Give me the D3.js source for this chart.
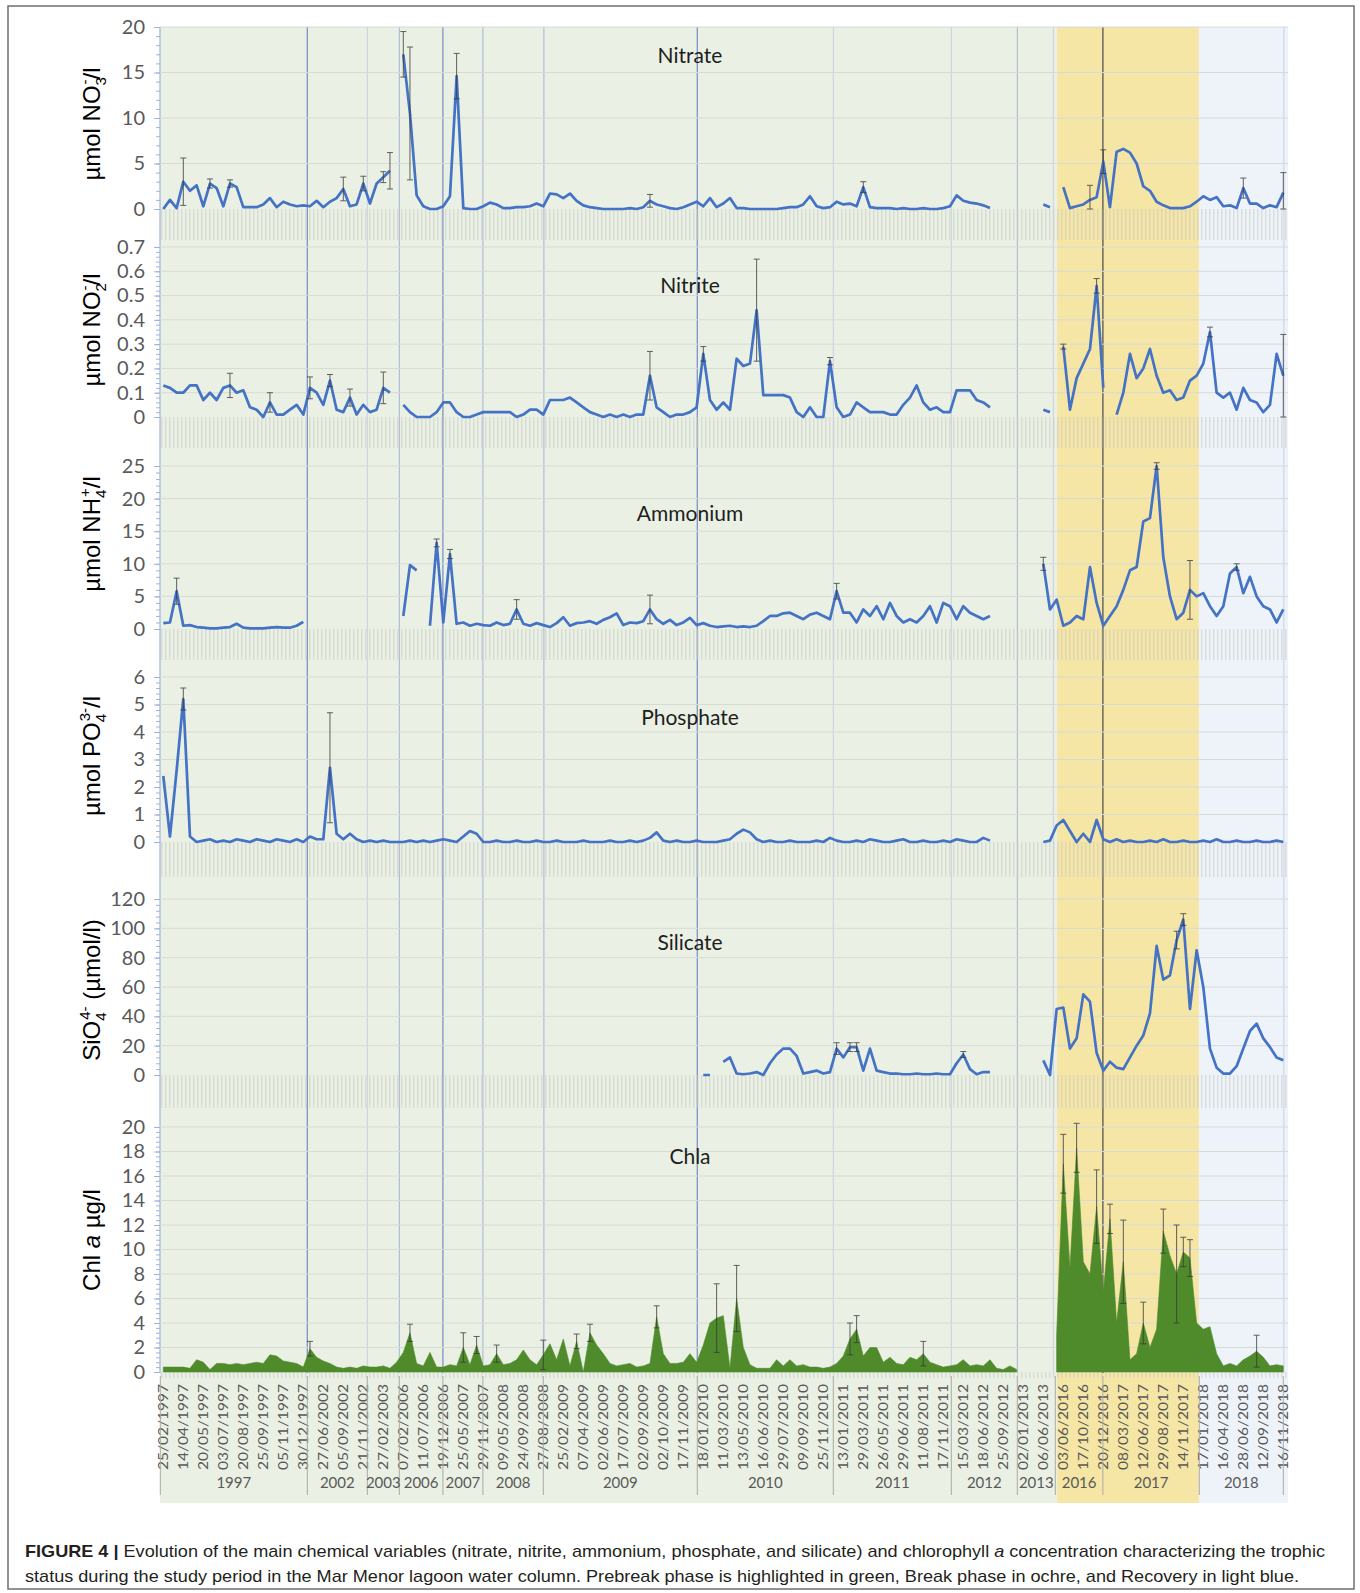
<!DOCTYPE html>
<html>
<head>
<meta charset="utf-8">
<script src="https://cdn.jsdelivr.net/npm/d3@7"></script>
<style>
  body { margin: 0; background: #fff; }
  svg { display: block; }
</style>
</head>
<body>
<svg id="chart" width="1360" height="1593"></svg>
<script>
// sampling dates shown on the axis (one every third value below)
var dates = ['25/02/1997','14/04/1997','20/05/1997','03/07/1997','20/08/1997','25/09/1997','05/11/1997','30/12/1997',
  '27/06/2002','05/09/2002','21/11/2002','27/02/2003','07/02/2006','11/07/2006','19/12/2006','25/05/2007','29/11/2007',
  '09/05/2008','24/09/2008','27/08/2008','25/02/2009','07/04/2009','02/06/2009','17/07/2009','02/09/2009','02/10/2009',
  '17/11/2009','18/01/2010','11/03/2010','13/05/2010','16/06/2010','29/07/2010','09/09/2010','25/11/2010','13/01/2011',
  '29/03/2011','26/05/2011','29/06/2011','11/08/2011','17/11/2011','15/03/2012','18/06/2012','25/09/2012','02/01/2013',
  '06/06/2013','03/06/2016','17/10/2016','20/12/2016','08/03/2017','12/06/2017','29/08/2017','14/11/2017','17/01/2018',
  '16/04/2018','28/06/2018','12/09/2018','16/11/2018'];

var years = ['1997','2002','2003','2006','2007','2008','2009','2010','2011','2012','2013','2016','2017','2018'];
var yearEdges = [-0.15, 7.2, 10.2, 11.8, 13.98, 15.98, 19.0, 26.7, 33.5, 39.4, 42.7, 44.6, 46.98, 51.8, 56.0];

var sepPos = [7.2, 10.2, 11.8, 13.98, 15.98, 19.03, 26.7, 33.5, 39.4, 42.7, 44.5, 46.98, 56.03];
var sepTone = [2, 0, 1, 2, 1, 1, 2, 0, 0, 1, 0, 3, 0];

var phaseEdges = [-0.165, 44.69, 51.78, 56.235];
var phases = ['Prebreak', 'Break', 'Recovery'];

var titles = ['Nitrate', 'Nitrite', 'Ammonium', 'Phosphate', 'Silicate', 'Chla'];

var nitrate = [0.0, 1.0, 0.1, 3.0, 2.0, 2.6, 0.3, 2.8, 2.3, 0.3,
  2.8, 2.4, 0.2, 0.2, 0.2, 0.5, 1.2, 0.2, 0.8, 0.5,
  0.3, 0.4, 0.3, 0.9, 0.2, 0.8, 1.2, 2.2, 0.3, 0.5,
  2.8, 0.6, 2.8, 3.5, 4.2, null, 17.0, 10.5, 1.5, 0.3,
  0.0, 0.0, 0.3, 1.4, 14.6, 0.1, 0.0, 0.0, 0.3, 0.7,
  0.5, 0.1, 0.1, 0.2, 0.2, 0.3, 0.6, 0.3, 1.7, 1.6,
  1.2, 1.7, 0.9, 0.4, 0.2, 0.1, 0.0, 0.0, 0.0, 0.0,
  0.1, 0.0, 0.2, 0.9, 0.5, 0.3, 0.1, 0.0, 0.2, 0.5,
  0.8, 0.3, 1.2, 0.2, 0.6, 1.2, 0.1, 0.1, 0.0, 0.0,
  0.0, 0.0, 0.0, 0.1, 0.2, 0.2, 0.5, 1.4, 0.3, 0.1,
  0.2, 0.8, 0.5, 0.6, 0.3, 2.4, 0.2, 0.1, 0.1, 0.1,
  0.0, 0.1, 0.0, 0.0, 0.1, 0.0, 0.0, 0.1, 0.3, 1.5,
  0.9, 0.7, 0.6, 0.4, 0.1, null, null, null, null, null,
  null, null, 0.5, 0.2, null, 2.4, 0.1, 0.3, 0.5, 1.0,
  1.3, 5.2, 0.2, 6.3, 6.6, 6.2, 5.0, 2.5, 2.0, 0.8,
  0.4, 0.1, 0.1, 0.1, 0.3, 0.8, 1.4, 1.0, 1.3, 0.3,
  0.4, 0.1, 2.3, 0.6, 0.6, 0.1, 0.4, 0.2, 1.8];

var nitrite = [0.13, 0.12, 0.10, 0.10, 0.13, 0.13, 0.07, 0.10, 0.07, 0.12,
  0.13, 0.10, 0.11, 0.04, 0.03, 0.00, 0.06, 0.01, 0.01, 0.03,
  0.05, 0.01, 0.12, 0.10, 0.05, 0.15, 0.03, 0.02, 0.08, 0.01,
  0.05, 0.02, 0.03, 0.12, 0.10, null, 0.05, 0.02, 0.00, 0.00,
  0.00, 0.02, 0.06, 0.06, 0.02, 0.00, 0.00, 0.01, 0.02, 0.02,
  0.02, 0.02, 0.02, 0.00, 0.01, 0.03, 0.03, 0.01, 0.07, 0.07,
  0.07, 0.08, 0.06, 0.04, 0.02, 0.01, 0.00, 0.01, 0.00, 0.01,
  0.00, 0.01, 0.01, 0.17, 0.04, 0.02, 0.00, 0.01, 0.01, 0.02,
  0.04, 0.26, 0.07, 0.03, 0.06, 0.03, 0.24, 0.21, 0.22, 0.44,
  0.09, 0.09, 0.09, 0.09, 0.08, 0.02, 0.00, 0.04, 0.00, 0.00,
  0.23, 0.04, 0.00, 0.01, 0.06, 0.04, 0.02, 0.02, 0.02, 0.01,
  0.01, 0.05, 0.08, 0.13, 0.06, 0.03, 0.04, 0.02, 0.02, 0.11,
  0.11, 0.11, 0.07, 0.06, 0.04, null, null, null, null, null,
  null, null, 0.03, 0.02, null, 0.29, 0.03, 0.16, 0.22, 0.28,
  0.54, 0.12, null, 0.01, 0.10, 0.26, 0.16, 0.20, 0.28, 0.17,
  0.10, 0.11, 0.07, 0.08, 0.15, 0.17, 0.22, 0.35, 0.10, 0.08,
  0.10, 0.03, 0.12, 0.07, 0.06, 0.02, 0.05, 0.26, 0.17];

var ammonium = [0.9, 1.0, 5.8, 0.5, 0.6, 0.3, 0.2, 0.1, 0.1, 0.2,
  0.3, 0.8, 0.2, 0.1, 0.1, 0.1, 0.2, 0.3, 0.2, 0.2,
  0.5, 1.1, null, null, null, null, null, null, null, null,
  null, null, null, null, null, null, 2.0, 9.8, 9.0, null,
  0.5, 13.2, 1.0, 11.5, 0.8, 1.0, 0.5, 0.8, 0.6, 0.5,
  1.0, 0.6, 0.8, 3.0, 0.8, 0.5, 0.9, 0.6, 0.3, 0.9,
  1.8, 0.5, 0.9, 1.0, 1.2, 0.8, 1.4, 1.8, 2.4, 0.6,
  1.0, 0.9, 1.2, 3.0, 1.5, 0.8, 1.4, 0.6, 1.0, 1.7,
  0.6, 0.9, 0.5, 0.3, 0.4, 0.5, 0.3, 0.4, 0.3, 0.5,
  1.2, 2.0, 2.0, 2.4, 2.5, 2.0, 1.5, 2.2, 2.5, 2.0,
  1.5, 5.8, 2.5, 2.5, 1.0, 3.0, 2.0, 3.5, 1.5, 4.0,
  2.0, 1.0, 1.5, 1.0, 2.0, 3.5, 1.0, 4.0, 3.5, 1.5,
  3.5, 2.5, 2.0, 1.5, 2.0, null, null, null, null, null,
  null, null, 10.0, 3.0, 4.5, 0.5, 1.0, 2.0, 1.5, 9.5,
  4.0, 0.5, 2.0, 3.5, 6.0, 9.0, 9.5, 16.5, 17.0, 25.0,
  11.0, 5.0, 1.5, 2.5, 6.0, 5.0, 5.5, 3.5, 2.0, 3.5,
  8.5, 9.5, 5.5, 8.0, 5.0, 3.5, 3.0, 1.0, 3.0];

var phosphate = [2.4, 0.2, 2.6, 5.2, 0.2, 0.0, 0.05, 0.1, 0.0, 0.05,
  0.0, 0.1, 0.05, 0.0, 0.1, 0.05, 0.0, 0.1, 0.05, 0.0,
  0.1, 0.0, 0.2, 0.1, 0.1, 2.7, 0.3, 0.1, 0.3, 0.1,
  0.0, 0.05, 0.0, 0.05, 0.0, 0.0, 0.0, 0.05, 0.0, 0.05,
  0.0, 0.05, 0.1, 0.05, 0.0, 0.2, 0.4, 0.3, 0.0, 0.0,
  0.05, 0.0, 0.0, 0.05, 0.0, 0.0, 0.05, 0.0, 0.0, 0.05,
  0.0, 0.0, 0.0, 0.05, 0.0, 0.0, 0.0, 0.05, 0.0, 0.0,
  0.05, 0.0, 0.05, 0.15, 0.35, 0.05, 0.0, 0.05, 0.0, 0.0,
  0.05, 0.0, 0.0, 0.0, 0.05, 0.1, 0.3, 0.45, 0.35, 0.1,
  0.0, 0.05, 0.0, 0.0, 0.05, 0.0, 0.0, 0.0, 0.05, 0.0,
  0.15, 0.05, 0.0, 0.0, 0.05, 0.0, 0.1, 0.05, 0.0, 0.0,
  0.05, 0.1, 0.0, 0.0, 0.05, 0.0, 0.0, 0.05, 0.0, 0.1,
  0.05, 0.0, 0.0, 0.15, 0.05, null, null, null, null, null,
  null, null, 0.0, 0.05, 0.6, 0.8, 0.4, 0.0, 0.3, 0.0,
  0.8, 0.1, 0.0, 0.1, 0.0, 0.05, 0.0, 0.0, 0.05, 0.0,
  0.1, 0.0, 0.0, 0.05, 0.0, 0.0, 0.05, 0.0, 0.1, 0.0,
  0.0, 0.05, 0.0, 0.0, 0.05, 0.0, 0.0, 0.05, 0.0];

var silicate = [null, null, null, null, null, null, null, null, null, null,
  null, null, null, null, null, null, null, null, null, null,
  null, null, null, null, null, null, null, null, null, null,
  null, null, null, null, null, null, null, null, null, null,
  null, null, null, null, null, null, null, null, null, null,
  null, null, null, null, null, null, null, null, null, null,
  null, null, null, null, null, null, null, null, null, null,
  null, null, null, null, null, null, null, null, null, null,
  null, 0, 0, null, 9, 12, 1, 0.5, 1, 2,
  0, 8, 14, 18, 18, 13, 1, 2, 3, 1,
  2, 18, 12, 19, 19, 3, 18, 3, 2, 1,
  1, 0.5, 0.5, 1, 0.5, 0.5, 1, 0.5, 0.5, 8,
  14, 4, 0.5, 2, 2, null, null, null, null, null,
  null, null, 10, 0, 45, 46, 18, 25, 55, 50,
  15, 3, 9, 5, 4, 12, 20, 27, 42, 88,
  65, 68, 92, 106, 45, 85, 60, 18, 5, 1,
  1, 6, 18, 30, 35, 25, 19, 12, 10];

var chla = [0.4, 0.4, 0.4, 0.4, 0.3, 1.0, 0.8, 0.2, 0.7, 0.7,
  0.6, 0.7, 0.6, 0.7, 0.8, 0.7, 1.4, 1.3, 0.9, 0.8,
  0.7, 0.4, 1.9, 1.2, 0.9, 0.7, 0.4, 0.3, 0.4, 0.3,
  0.5, 0.4, 0.4, 0.5, 0.3, 0.8, 1.6, 3.2, 0.7, 0.5,
  1.6, 0.4, 0.4, 0.6, 0.5, 2.0, 0.6, 2.2, 0.5, 0.6,
  1.5, 0.6, 0.7, 1.0, 1.8, 1.0, 0.6, 1.4, 2.3, 1.0,
  2.7, 0.5, 2.5, 0.0, 3.2, 2.2, 1.5, 0.7, 0.5, 0.6,
  0.7, 0.4, 0.5, 0.7, 4.5, 1.5, 0.7, 0.7, 0.8, 1.5,
  0.8, 2.2, 4.0, 4.4, 4.6, 0.3, 6.0, 2.0, 0.6, 0.3,
  0.3, 0.3, 1.0, 0.5, 1.0, 0.5, 0.6, 0.4, 0.4, 0.3,
  0.4, 0.7, 1.3, 2.7, 3.5, 1.3, 2.0, 2.0, 0.8, 1.2,
  0.7, 0.6, 1.2, 1.0, 1.5, 0.8, 0.6, 0.4, 0.5, 0.6,
  1.0, 0.5, 0.6, 0.5, 1.0, 0.3, 0.2, 0.5, 0.2, null,
  null, null, null, null, 3.0, 17.0, 8.5, 18.3, 9.0, 8.0,
  13.5, 6.5, 12.5, 4.0, 9.0, 1.0, 1.5, 4.0, 2.0, 3.5,
  11.5, 9.5, 8.0, 9.8, 9.3, 4.0, 3.5, 3.7, 1.5, 0.5,
  0.7, 0.5, 1.0, 1.3, 1.7, 1.2, 0.5, 0.6, 0.5];

// [value index, top of error bar]
var nitrateErr = [[3, 5.6], [7, 3.3], [10, 3.2], [27, 3.5], [30, 3.6], [33, 4.1], [34, 6.2], [36, 19.5],
  [37, 17.8], [44, 17.1], [73, 1.6], [105, 3.0], [139, 2.6], [141, 6.5], [162, 3.4], [168, 4.0]];
var nitriteErr = [[10, 0.18], [16, 0.10], [22, 0.165], [25, 0.175], [28, 0.115], [33, 0.185], [73, 0.27],
  [81, 0.29], [89, 0.65], [100, 0.245], [135, 0.30], [140, 0.57], [157, 0.37], [168, 0.34]];
var ammoniumErr = [[2, 7.8], [41, 13.8], [43, 12.2], [53, 4.5], [73, 5.2], [101, 7.0], [132, 11.0],
  [149, 25.5], [154, 10.5], [161, 10.0]];
var phosphateErr = [[3, 5.6], [25, 4.7]];
var silicateErr = [[101, 22], [103, 22], [104, 22], [120, 16], [152, 98], [153, 110]];
var chlaErr = [[22, 2.5], [37, 3.9], [45, 3.2], [47, 2.9], [50, 2.2], [57, 2.6], [62, 3.1], [64, 3.9],
  [74, 5.4], [83, 7.2], [86, 8.7], [103, 4.0], [104, 4.6], [114, 2.5], [135, 19.4], [137, 20.3],
  [140, 16.5], [142, 13.7], [144, 12.4], [147, 5.7], [150, 13.3], [152, 12.0],
  [153, 11.0], [154, 10.8], [164, 3.0]];

var Fig = (function(){
  var svg, x;
  var plotLeft = 160, plotRight = 1288, plotTop = 27, plotBottom = 1373;
  var tickFont = 'Lato, "Open Sans", sans-serif';
  var sepColors = ['#c8d0e3', '#a6b3d6', '#8092c5', '#555'];
  var phaseColors = ['#eaf1e4', '#f5e6a5', '#eef3f9'];

  var intFmt = d3.format('d');
  var decFmt = function(v){ return v === 0 ? '0' : d3.format('.1f')(v); };

  var panels = [
    {title: titles[0], values: nitrate, err: nitrateErr, max: 20, step: 5, top: 27, zero: 209, strip: 31,
      fmt: intFmt, titleY: 56, labelY: 124,
      label: [['µmol NO', ''], ['3', 'sub'], ['-', 'sup'], ['/l', '']]},
    {title: titles[1], values: nitrite, err: nitriteErr, max: 0.7, step: 0.1, top: 247, zero: 417, strip: 31,
      fmt: decFmt, titleY: 286, labelY: 330,
      label: [['µmol NO', ''], ['2', 'sub'], ['-', 'sup'], ['/l', '']]},
    {title: titles[2], values: ammonium, err: ammoniumErr, max: 25, step: 5, top: 466, zero: 629, strip: 31,
      fmt: intFmt, titleY: 514, labelY: 534,
      label: [['µmol NH', ''], ['4', 'sub'], ['+', 'sup'], ['/l', '']]},
    {title: titles[3], values: phosphate, err: phosphateErr, max: 6, step: 1, top: 677, zero: 842, strip: 35,
      fmt: intFmt, titleY: 718, labelY: 756,
      label: [['µmol PO', ''], ['4', 'sub'], ['3-', 'sup'], ['/l', '']]},
    {title: titles[4], values: silicate, err: silicateErr, max: 120, step: 20, top: 899, zero: 1075, strip: 33,
      fmt: intFmt, titleY: 943, labelY: 990,
      label: [['SiO', ''], ['4', 'sub'], ['4-', 'sup'], [' (µmol/l)', '']]},
    {title: titles[5], values: chla, err: chlaErr, max: 20, step: 2, top: 1127, zero: 1372, strip: 6,
      fmt: intFmt, titleY: 1157, labelY: 1240, area: true,
      label: [['Chl ', ''], ['a', 'it'], [' µg/l', '']]}
  ];

  var drawBackground = function(){
    svg.append('rect')
      .attr('x', 8).attr('y', 6).attr('width', 1346).attr('height', 1583)
      .attr('fill', 'none').attr('stroke', '#6f6f6f').attr('stroke-width', 1.5);

    svg.selectAll('rect.phase').data(phases).enter().append('rect')
      .attr('class', 'phase')
      .attr('x', function(d, i){ return x(phaseEdges[i]); })
      .attr('width', function(d, i){ return x(phaseEdges[i + 1]) - x(phaseEdges[i]); })
      .attr('y', plotTop).attr('height', 1503 - plotTop)
      .attr('fill', function(d, i){ return phaseColors[i]; });

    svg.selectAll('line.sep').data(sepPos).enter().append('line')
      .attr('class', 'sep')
      .attr('x1', function(d){ return x(d); }).attr('x2', function(d){ return x(d); })
      .attr('y1', plotTop).attr('y2', plotBottom)
      .attr('stroke', function(d, i){ return sepColors[sepTone[i]]; })
      .attr('stroke-width', function(d, i){ return sepTone[i] >= 2 ? 1.3 : 1; });

    // y axis line runs through all the panels
    svg.append('line')
      .attr('x1', plotLeft).attr('x2', plotLeft)
      .attr('y1', plotTop).attr('y2', plotBottom)
      .attr('stroke', '#9db3de').attr('stroke-width', 1.2);
  };

  var addRich = function(text, parts){
    var shift = 0, subW = 0;
    parts.forEach(function(p){
      var t = text.append('tspan').text(p[0]);
      var target = p[1] === 'sub' ? 6 : (p[1] === 'sup' ? -10 : 0);
      t.attr('dy', target - shift);
      shift = target;
      if (p[1] === 'sub' || p[1] === 'sup') t.attr('font-size', 15);
      if (p[1] === 'sup' && subW) t.attr('dx', -subW + 1);
      if (p[1] === 'it') t.attr('font-style', 'italic');
      subW = p[1] === 'sub' ? p[0].length * 8.3 : 0;
    });
  };

  var drawPanel = function(p){
    var y = d3.scaleLinear().domain([0, p.max]).range([p.zero, p.top]);
    var majors = d3.range(0, p.max + p.step / 2, p.step);
    var minors = d3.range(0, p.max + p.step / 10, p.step / 5);
    var g = svg.append('g');

    g.selectAll('line.grid').data(majors.slice(1)).enter().append('line')
      .attr('class', 'grid')
      .attr('x1', plotLeft).attr('x2', plotRight)
      .attr('y1', y).attr('y2', y)
      .attr('stroke', '#d6dbd4').attr('stroke-width', 1);

    // category tick marks below each panel
    g.append('g')
      .attr('transform', 'translate(0,' + p.zero + ')')
      .call(d3.axisBottom(x).tickValues(d3.range(-0.1, 56.2, 0.2)).tickSize(p.strip).tickFormat(''))
      .call(function(a){
        a.select('.domain').remove();
        a.selectAll('line').attr('stroke', '#c9ccc7').attr('stroke-width', 0.8);
      });

    g.append('g')
      .attr('transform', 'translate(' + plotLeft + ',0)')
      .call(d3.axisLeft(y).tickValues(minors).tickSize(4).tickSizeOuter(0).tickFormat(''))
      .call(function(a){
        a.select('.domain').remove();
        a.selectAll('line').attr('stroke', '#9db3de');
      });

    g.append('g')
      .attr('transform', 'translate(' + plotLeft + ',0)')
      .call(d3.axisLeft(y).tickValues(majors).tickSize(6).tickSizeOuter(0).tickPadding(9).tickFormat(p.fmt))
      .call(function(a){
        a.select('.domain').remove();
        a.selectAll('line').attr('stroke', '#9db3de');
        a.selectAll('text').attr('font-family', tickFont).attr('font-size', 20).attr('fill', '#595959');
      });

    var px = function(d, i){ return x(i / 3); };
    var ok = function(d){ return d != null; };

    if (p.area) {
      g.append('path')
        .datum(p.values)
        .attr('d', d3.area().defined(ok).x(px).y0(y(0)).y1(function(d){ return y(d); }))
        .attr('fill', '#4f8a2b').attr('stroke', '#4f8a2b').attr('stroke-width', 0.6);
    } else {
      g.append('path')
        .datum(p.values)
        .attr('d', d3.line().defined(ok).x(px).y(function(d){ return y(d); }))
        .attr('fill', 'none').attr('stroke', '#4472c4')
        .attr('stroke-width', 2.7).attr('stroke-linejoin', 'round');
    }

    var bars = g.selectAll('g.err').data(p.err).enter().append('g').attr('class', 'err')
      .attr('stroke', '#3b3b3b').attr('stroke-width', 1).attr('opacity', 0.8);
    var lo = function(e){ return y(Math.max(0, 2 * p.values[e[0]] - e[1])); };
    bars.append('line')
      .attr('x1', function(e){ return x(e[0] / 3); }).attr('x2', function(e){ return x(e[0] / 3); })
      .attr('y1', lo).attr('y2', function(e){ return y(e[1]); });
    bars.append('line')
      .attr('x1', function(e){ return x(e[0] / 3) - 3; }).attr('x2', function(e){ return x(e[0] / 3) + 3; })
      .attr('y1', function(e){ return y(e[1]); }).attr('y2', function(e){ return y(e[1]); });
    bars.append('line')
      .attr('x1', function(e){ return x(e[0] / 3) - 3; }).attr('x2', function(e){ return x(e[0] / 3) + 3; })
      .attr('y1', lo).attr('y2', lo);

    g.append('text')
      .attr('x', 690).attr('y', p.titleY).attr('dy', '0.35em')
      .attr('text-anchor', 'middle')
      .attr('font-family', tickFont).attr('font-size', 21).attr('fill', '#1e1e1e')
      .text(p.title);

    var lab = g.append('text')
      .attr('transform', 'translate(100,' + p.labelY + ') rotate(-90)')
      .attr('text-anchor', 'middle')
      .attr('font-family', '"Liberation Sans", Arial, sans-serif').attr('font-size', 24).attr('fill', '#000');
    addRich(lab, p.label);
  };

  var drawCategoryAxis = function(){
    svg.selectAll('text.date').data(dates).enter().append('text')
      .attr('class', 'date')
      .attr('transform', function(d, i){ return 'translate(' + x(i) + ',1384) rotate(-90)'; })
      .attr('dy', '0.35em')
      .attr('text-anchor', 'end')
      .attr('font-family', tickFont).attr('font-size', 13).attr('fill', '#595959')
      .attr('textLength', 86).attr('lengthAdjust', 'spacingAndGlyphs')
      .text(function(d){ return d; });

    svg.selectAll('line.yearEdge').data(yearEdges).enter().append('line')
      .attr('class', 'yearEdge')
      .attr('x1', function(d){ return x(d); }).attr('x2', function(d){ return x(d); })
      .attr('y1', 1376).attr('y2', 1495)
      .attr('stroke', '#a9aca7').attr('stroke-width', 1);

    svg.selectAll('text.year').data(years).enter().append('text')
      .attr('class', 'year')
      .attr('x', function(d, i){ return x((yearEdges[i] + yearEdges[i + 1]) / 2); })
      .attr('y', 1488)
      .attr('text-anchor', 'middle')
      .attr('font-family', tickFont).attr('font-size', 15).attr('fill', '#595959')
      .text(function(d){ return d; });
  };

  var drawCaption = function(){
    var font = '"Liberation Sans Narrow", "Arial Narrow", "Liberation Sans", sans-serif';
    var l1 = svg.append('text')
      .attr('x', 25).attr('y', 1557)
      .attr('font-family', font).attr('font-size', 17).attr('fill', '#231f20')
      .attr('textLength', 1300).attr('lengthAdjust', 'spacingAndGlyphs');
    l1.append('tspan').attr('font-weight', 'bold').text('FIGURE 4 | ');
    l1.append('tspan').text('Evolution of the main chemical variables (nitrate, nitrite, ammonium, phosphate, and silicate) and chlorophyll ');
    l1.append('tspan').attr('font-style', 'italic').text('a');
    l1.append('tspan').text(' concentration characterizing the trophic');

    svg.append('text')
      .attr('x', 25).attr('y', 1582)
      .attr('font-family', font).attr('font-size', 17).attr('fill', '#231f20')
      .attr('textLength', 1274).attr('lengthAdjust', 'spacingAndGlyphs')
      .text('status during the study period in the Mar Menor lagoon water column. Prebreak phase is highlighted in green, Break phase in ochre, and Recovery in light blue.');
  };

  var init = function(){
    svg = d3.select('#chart');
    x = d3.scaleLinear().domain([0, 56]).range([163.3, 1283.3]);

    drawBackground();
    panels.forEach(drawPanel);
    drawCategoryAxis();
    drawCaption();
  };

  return {
    init: init
  };
})();

Fig.init();
</script>
</body>
</html>
